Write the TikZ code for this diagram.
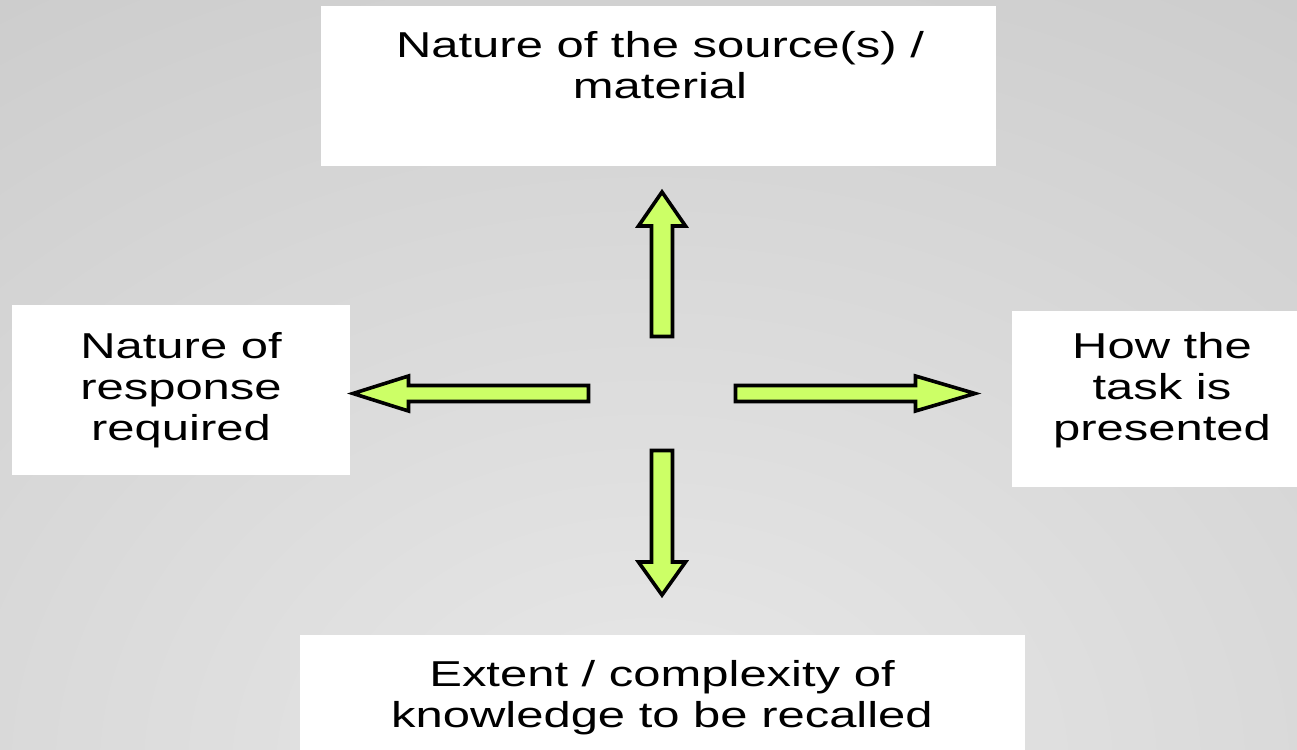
\documentclass[tikz,border=0pt]{standalone}
\usepackage{fontspec}
\setmainfont{Liberation Sans}[FakeStretch=1.36]
\definecolor{bglight}{HTML}{E8E8E8}
\definecolor{bgdark}{HTML}{ADADAD}
\definecolor{arrowgreen}{HTML}{CCFF66}
\pgfdeclareradialshading{bgshade}{\pgfpoint{0bp}{0bp}}{color(0bp)=(bglight); color(50bp)=(bgdark)}
\tikzset{
  whitebox/.style={fill=white, draw=none},
  boxtext/.style={align=center, inner sep=0pt, anchor=north, text=black,
    font=\fontsize{27pt}{30.75pt}\selectfont},
  bigarrow/.style={draw=black, line width=2.7pt, fill=arrowgreen, line join=miter}
}
\begin{document}
\begin{tikzpicture}[x=0.75pt,y=-0.75pt]
\useasboundingbox (0,0) rectangle (1297,750);
% background
\begin{scope}
  \clip (0,0) rectangle (1297,750);
  \fill[bgdark] (0,0) rectangle (1297,750);
  \shade[shading=bgshade] (650,770) ellipse[x radius=975pt, y radius=750pt];
\end{scope}
% boxes
\fill[whitebox] (321,6) rectangle (996,166);
\fill[whitebox] (12,305) rectangle (350,475);
\fill[whitebox] (1012,311) rectangle (1300,487);
\fill[whitebox] (300,635) rectangle (1025,753);
% texts
\node[boxtext] (source) at (660,31) {Nature of the source(s) /\\material};
\node[boxtext] (response) at (181,332) {Nature of\\response\\required};
\node[boxtext] (task) at (1162,332) {How the\\task is\\presented};
\node[boxtext] (extent) at (662,660) {Extent / complexity of\\knowledge to be recalled};
% arrows
\draw[bigarrow] (651.5,336.5) -- (672.5,336.5) -- (672.5,226) -- (685.5,226)
  -- (662,192) -- (638.5,226) -- (651.5,226) -- cycle;
\draw[bigarrow] (651.5,450.5) -- (672.5,450.5) -- (672.5,562) -- (685.5,562)
  -- (662,595) -- (638.5,562) -- (651.5,562) -- cycle;
\draw[bigarrow] (588.5,385.5) -- (588.5,401.5) -- (408.5,401.5) -- (408.5,411)
  -- (353,393.5) -- (408.5,376) -- (408.5,385.5) -- cycle;
\draw[bigarrow] (735.5,385.5) -- (915.5,385.5) -- (915.5,376) -- (975,393.5)
  -- (915.5,411) -- (915.5,401.5) -- (735.5,401.5) -- cycle;
\end{tikzpicture}
\end{document}
